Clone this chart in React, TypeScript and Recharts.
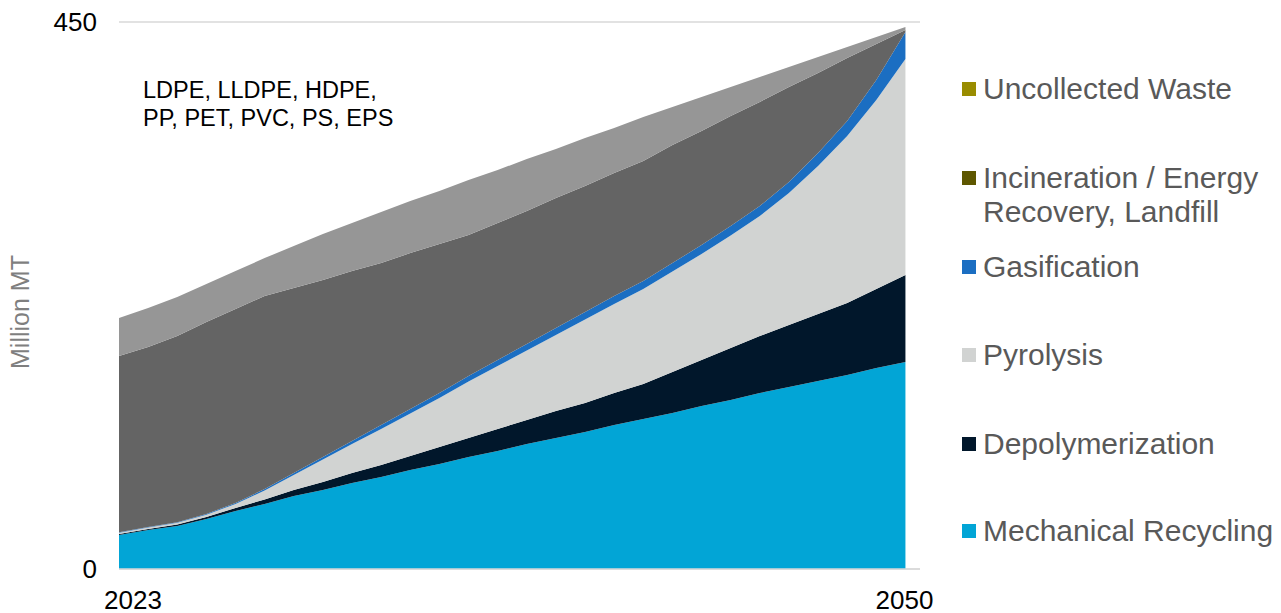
import React from 'react';
import { AreaChart, Area, XAxis, YAxis, CartesianGrid } from 'recharts';

const years = [2023, 2024, 2025, 2026, 2027, 2028, 2029, 2030, 2031, 2032, 2033, 2034, 2035, 2036, 2037, 2038, 2039, 2040, 2041, 2042, 2043, 2044, 2045, 2046, 2047, 2048, 2049, 2050];
const mechanicalRecycling = [28.0, 32.1, 35.4, 41.1, 47.7, 53.5, 60.1, 65.0, 70.7, 75.7, 81.4, 86.4, 92.1, 97.1, 102.8, 107.8, 112.7, 118.5, 123.4, 128.3, 134.1, 139.0, 144.8, 149.7, 154.7, 159.6, 165.4, 170.3];
const depolymerization = [0.8, 0.8, 1.2, 1.6, 2.5, 3.7, 4.9, 6.6, 8.2, 9.9, 11.5, 14.0, 15.6, 18.1, 19.7, 22.2, 23.9, 26.3, 28.8, 33.7, 37.8, 42.8, 46.9, 51.0, 55.1, 59.2, 65.0, 71.6];
const pyrolysis = [1.0, 1.2, 1.4, 2.0, 3.3, 7.4, 12.4, 18.4, 23.9, 29.6, 35.0, 40.3, 46.6, 51.8, 57.3, 62.5, 68.6, 73.2, 78.1, 82.7, 87.2, 92.6, 98.7, 108.7, 121.7, 137.4, 155.4, 177.7];
const gasification = [0.4, 0.4, 0.4, 0.6, 0.8, 1.2, 1.6, 2.1, 2.5, 3.3, 3.7, 4.1, 4.5, 4.9, 5.3, 5.8, 6.2, 6.6, 6.6, 7.0, 7.4, 7.8, 8.2, 9.0, 10.7, 12.3, 16.5, 22.2];
const incinerationLandfill = [145.0, 148.1, 153.3, 157.9, 159.6, 158.8, 152.2, 145.6, 139.8, 133.2, 128.3, 122.6, 116.0, 112.7, 109.4, 106.9, 103.7, 101.2, 98.7, 97.1, 93.8, 90.5, 85.6, 78.1, 65.8, 51.9, 29.6, 1.6];
const uncollectedWaste = [31.3, 32.1, 32.1, 31.3, 31.3, 31.2, 34.5, 37.9, 39.5, 42.0, 42.8, 43.6, 45.2, 43.6, 42.8, 40.3, 39.5, 37.0, 36.2, 31.3, 28.0, 23.8, 20.5, 16.5, 13.2, 9.0, 5.7, 2.5];

const xTicks = [2023, 2050];
const yTicks = [0, 450];
const annotationLines = ['LDPE, LLDPE, HDPE,', 'PP, PET, PVC, PS, EPS'];

const series = [
  { key: 'mech', name: 'Mechanical Recycling', values: mechanicalRecycling, fill: '#02A5D6', legend: '#02A5D6' },
  { key: 'depoly', name: 'Depolymerization', values: depolymerization, fill: '#01172B', legend: '#01172B' },
  { key: 'pyro', name: 'Pyrolysis', values: pyrolysis, fill: '#D1D3D2', legend: '#D1D3D2' },
  { key: 'gasif', name: 'Gasification', values: gasification, fill: '#1B6EC2', legend: '#1B6EC2' },
  { key: 'incin', name: 'Incineration / Energy\nRecovery, Landfill', values: incinerationLandfill, fill: '#646464', legend: '#5E5700' },
  { key: 'uncol', name: 'Uncollected Waste', values: uncollectedWaste, fill: '#969696', legend: '#998C00' },
];

const data = years.map((year, i) => {
  const row: Record<string, number> = { year };
  series.forEach((s) => {
    row[s.key] = s.values[i];
  });
  return row;
});

const FONT = '"Liberation Sans", Arial, sans-serif';

const XTick = (props: any) => {
  const { x, payload } = props;
  const first = payload.value === xTicks[0];
  return (
    <text x={first ? x - 15 : x - 1} y={609} textAnchor={first ? 'start' : 'middle'} fontSize={26} fill="#000" fontFamily={FONT}>
      {payload.value}
    </text>
  );
};

const YTick = (props: any) => {
  const { y, payload } = props;
  return (
    <text x={97} y={y} dy="0.36em" textAnchor="end" fontSize={26} fill="#000" fontFamily={FONT}>
      {payload.value}
    </text>
  );
};

const YLabel = () => (
  <text x={20} y={312} transform="rotate(-90 20 312)" textAnchor="middle" dominantBaseline="central" fontSize={25} fill="#7F7F7F" fontFamily={FONT}>
    Million MT
  </text>
);

const legendOrder = [...series].reverse();
const legendTops = [72, 161, 250, 338, 427, 514];

export default function App() {
  return (
    <div style={{ position: 'absolute', left: 0, top: 0, width: 1281, height: 613, background: '#fff', fontFamily: FONT, overflow: 'hidden' }}>
      <AreaChart width={940} height={613} data={data} margin={{ top: 22, right: 20, bottom: 0, left: 0 }}>
        <CartesianGrid vertical={false} stroke="#D9D9D9" strokeWidth={1.5} />
        <XAxis
          dataKey="year"
          type="number"
          domain={[2023, 2050.5]}
          ticks={xTicks}
          interval={0}
          height={44}
          tickLine={false}
          axisLine={{ stroke: '#D9D9D9', strokeWidth: 1.5 }}
          tick={<XTick />}
          allowDataOverflow
        />
        <YAxis
          domain={[0, 450]}
          ticks={yTicks}
          interval={0}
          width={119}
          tickLine={false}
          axisLine={false}
          tick={<YTick />}
          label={<YLabel />}
        />
        {series.map((s) => (
          <Area
            key={s.key}
            type="linear"
            dataKey={s.key}
            stackId="1"
            fill={s.fill}
            fillOpacity={1}
            stroke="none"
            isAnimationActive={false}
          />
        ))}
      </AreaChart>
      <div style={{ position: 'absolute', left: 143, top: 76, fontSize: 23.5, lineHeight: '28px', color: '#000' }}>
        {annotationLines.map((l) => (
          <div key={l}>{l}</div>
        ))}
      </div>
      {legendOrder.map((s, i) => (
        <div key={s.key} style={{ position: 'absolute', left: 962, top: legendTops[i] }}>
          <div style={{ position: 'absolute', left: 0, top: 10, width: 14, height: 14, background: s.legend }} />
          <div style={{ position: 'absolute', left: 21, top: 0, fontSize: 30, lineHeight: '34px', color: '#595959', whiteSpace: 'pre' }}>
            {s.name}
          </div>
        </div>
      ))}
    </div>
  );
}
